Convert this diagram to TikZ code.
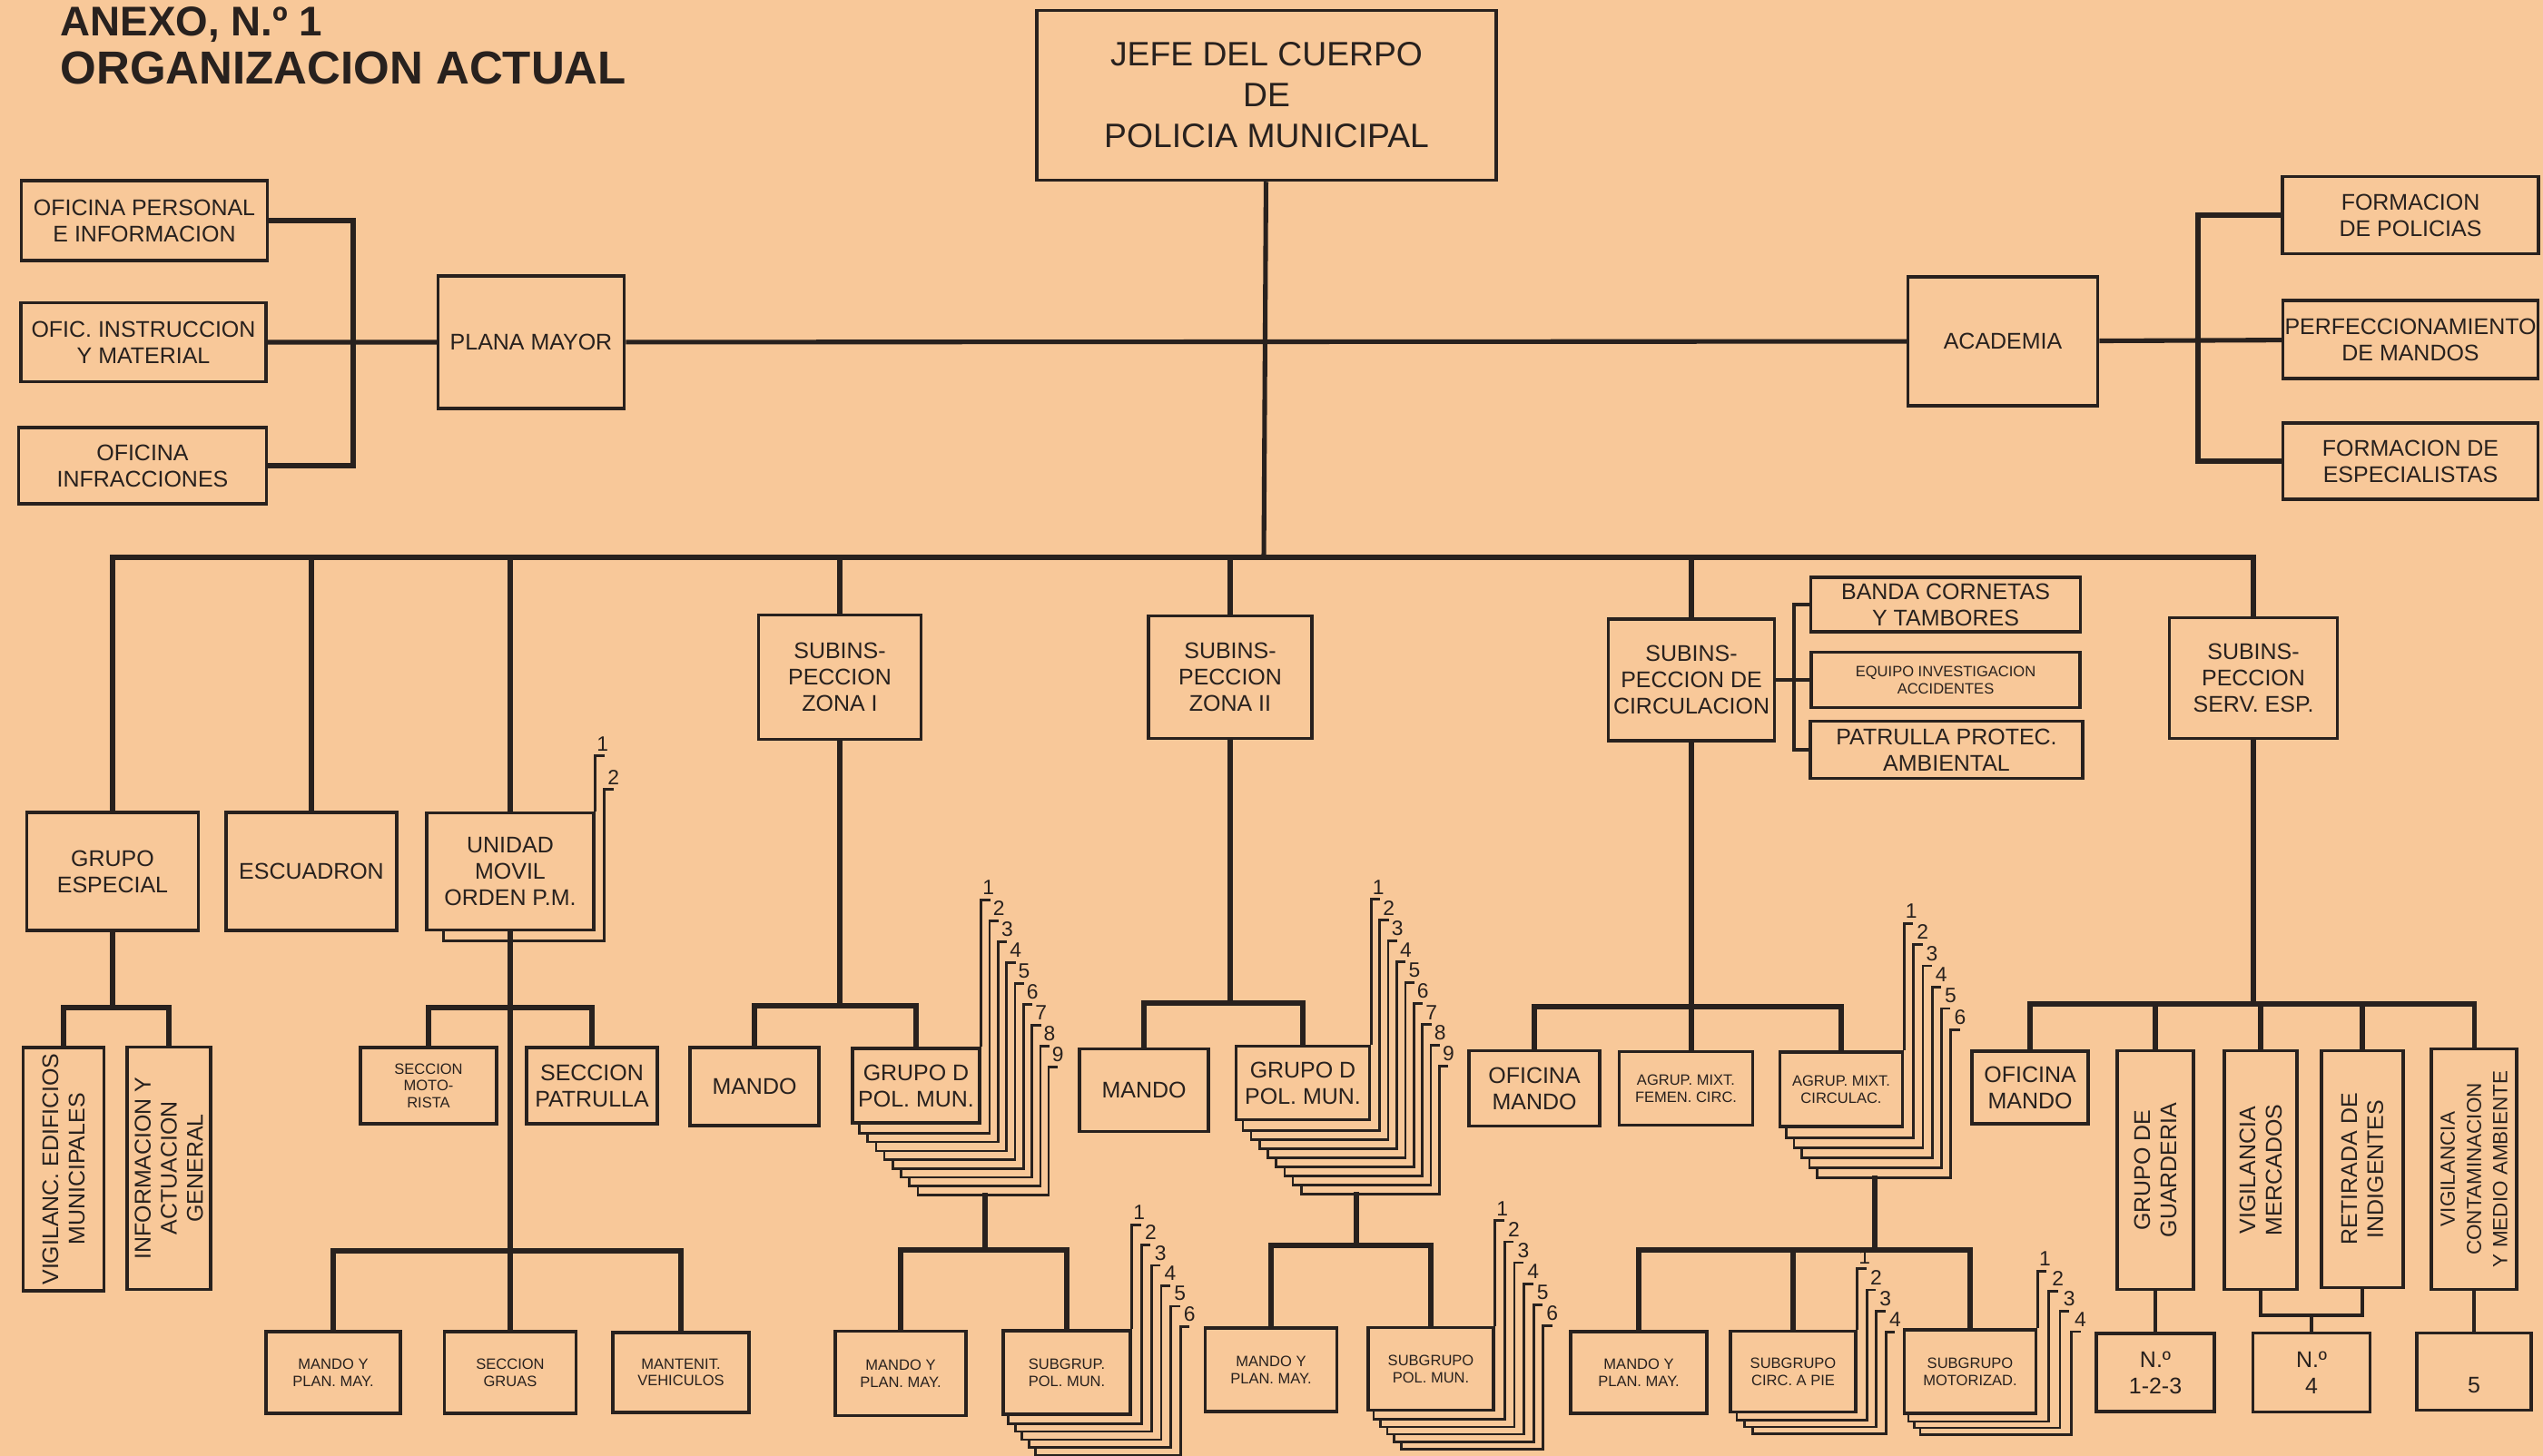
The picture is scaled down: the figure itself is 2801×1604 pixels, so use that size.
\documentclass[tikz,border=0pt]{standalone}
\usepackage{fontspec}
\setmainfont{Liberation Sans}
\usetikzlibrary{calc}
\definecolor{paper}{RGB}{248,200,153}
\definecolor{ink}{RGB}{40,33,30}
\tikzset{
    office/.style = {draw=ink, line width=1pt, text=ink, inner sep=0.5pt, align=center,
        font=\fontsize{7.1}{8.2}\selectfont},
    small office/.style = {office, font=\fontsize{4.7}{5.3}\selectfont},
    tall/.style = {office, rotate=90},
    wh/.style 2 args = {minimum width=#1*0.01cm, minimum height=#2*0.01cm},
    heading/.style = {anchor=base west, text=ink, inner sep=0pt},
}
\tikzset{
    link/.style = {draw=ink, line width=1.45pt},
    thin link/.style = {draw=ink, line width=0.9pt},
    layer/.style = {draw=ink, line width=0.75pt},
    num/.style = {text=ink, inner sep=0pt, anchor=south west, font=\fontsize{6.5}{6.5}\selectfont},
}
% stacked copies behind a box: node, copies, dx right, dx left, dy, rise, step of the tops
\newcommand\pile[7]{%
    \draw[layer] (#1.north east) -- ++(0,-#6) -- ++(10,0);
    \node[num] at ($(#1.north east)+(1,{-#6-5})$) {1};
    \foreach \k in {2,...,#2} {
        \draw[layer] ($(#1.south west)+({(\k-1)*#4},{(\k-2)*#5})$) -- ++(0,#5)
            -| ($(#1.north east)+({(\k-1)*#3},{-#6+(\k-1)*#7})$) -- ++(10,0);
        \node[num] at ($(#1.north east)+({(\k-1)*#3+3},{-#6+(\k-1)*#7-5})$) {\k};
    }
}

\begin{document}
\begin{tikzpicture}[x=0.01cm, y=-0.01cm]
    \fill[paper] (0,0) rectangle (2801,1604);
    \useasboundingbox (0,0) rectangle (2801,1604);

    \node[heading, font=\bfseries\fontsize{13}{13}\selectfont] (anexo) at (66,40) {ANEXO, N.º 1};
    \node[heading, font=\bfseries\fontsize{14.5}{14.5}\selectfont] (orga) at (66,93) {ORGANIZACION ACTUAL};

    \node[office, wh={506}{187}, font=\fontsize{10.6}{12.8}\selectfont] (jefe) at (1395,105) {JEFE DEL CUERPO\\DE\\POLICIA MUNICIPAL};

    \node[office, wh={271}{88}] (ofper) at (159,243) {OFICINA PERSONAL\\E INFORMACION};
    \node[office, wh={270}{87}] (ofins) at (158,377) {OFIC. INSTRUCCION\\Y MATERIAL};
    \node[office, wh={273}{84}] (ofinf) at (157,513) {OFICINA\\INFRACCIONES};
    \node[office, wh={205}{146}] (plana) at (585,377) {PLANA MAYOR};

    \node[office, wh={209}{142}] (acad) at (2206,376) {ACADEMIA};
    \node[office, wh={282}{85}] (fpol) at (2655,237) {FORMACION\\DE POLICIAS};
    \node[office, wh={281}{86}] (fman) at (2655,374) {PERFECCIONAMIENTO\\DE MANDOS};
    \node[office, wh={281}{84}] (fesp) at (2655,508) {FORMACION DE\\ESPECIALISTAS};

    \node[office, wh={189}{130}] (gesp) at (124,960) {GRUPO\\ESPECIAL};
    \node[office, wh={188}{130}] (escu) at (343,960) {ESCUADRON};
    \node[office, wh={184}{129}] (umov) at (562,960) {UNIDAD\\MOVIL\\ORDEN P.M.};
    \node[office, wh={179}{137}] (zon1) at (925,746) {SUBINS-\\PECCION\\ZONA I};
    \node[office, wh={180}{135}] (zon2) at (1355,746) {SUBINS-\\PECCION\\ZONA II};
    \node[office, wh={183}{134}] (circ) at (1863,749) {SUBINS-\\PECCION DE\\CIRCULACION};
    \node[office, wh={185}{133}] (serv) at (2482,747) {SUBINS-\\PECCION\\SERV. ESP.};

    \node[office, wh={297}{60}] (banda) at (2143,666) {BANDA CORNETAS\\Y TAMBORES};
    \node[small office, wh={296}{61}] (equi) at (2143,749) {EQUIPO INVESTIGACION\\ACCIDENTES};
    \node[office, wh={300}{63}] (patr) at (2144,826) {PATRULLA PROTEC.\\AMBIENTAL};

    \node[tall, wh={268}{89}] (vige) at (70,1288) {VIGILANC. EDIFICIOS\\MUNICIPALES};
    \node[tall, wh={267}{92}] (info) at (186,1287) {INFORMACION Y\\ACTUACION\\GENERAL};

    \node[small office, wh={150}{84}] (smot) at (472,1196) {SECCION\\MOTO-\\RISTA};
    \node[office, wh={144}{84}] (spat) at (652,1196) {SECCION\\PATRULLA};
    \node[small office, wh={148}{90}] (mpum) at (367,1512) {MANDO Y\\PLAN. MAY.};
    \node[small office, wh={145}{90}] (grua) at (562,1512) {SECCION\\GRUAS};
    \node[small office, wh={150}{88}] (mant) at (750,1512) {MANTENIT.\\VEHICULOS};

    \node[office, wh={142}{86}] (man1) at (831,1197) {MANDO};
    \node[office, wh={140}{82}] (gd1) at (1009,1196) {GRUPO D\\POL. MUN.};
    \node[small office, wh={144}{93}] (mpz1) at (992,1513) {MANDO Y\\PLAN. MAY.};
    \node[small office, wh={140}{92}] (sg1) at (1175,1512) {SUBGRUP.\\POL. MUN.};

    \node[office, wh={142}{91}] (man2) at (1260,1201) {MANDO};
    \node[office, wh={147}{81}] (gd2) at (1435,1193) {GRUPO D\\POL. MUN.};
    \node[small office, wh={145}{92}] (mpz2) at (1400,1509) {MANDO Y\\PLAN. MAY.};
    \node[small office, wh={138}{91}] (sg2) at (1576,1508) {SUBGRUPO\\POL. MUN.};

    \node[office, wh={144}{83}] (ofm1) at (1690,1199) {OFICINA\\MANDO};
    \node[small office, wh={147}{81}] (agfe) at (1857,1199) {AGRUP. MIXT.\\FEMEN. CIRC.};
    \node[small office, wh={135}{82}] (agci) at (2028,1200) {AGRUP. MIXT.\\CIRCULAC.};
    \node[small office, wh={150}{90}] (mpci) at (1805,1512) {MANDO Y\\PLAN. MAY.};
    \node[small office, wh={138}{89}] (sgpi) at (1975,1511) {SUBGRUPO\\CIRC. A PIE};
    \node[small office, wh={145}{92}] (sgmo) at (2170,1511) {SUBGRUPO\\MOTORIZAD.};

    \node[office, wh={128}{80}] (ofm2) at (2236,1198) {OFICINA\\MANDO};
    \node[tall, wh={263}{84}] (guar) at (2374,1289) {GRUPO DE\\GUARDERIA};
    \node[tall, wh={263}{80}] (vmer) at (2490,1289) {VIGILANCIA\\MERCADOS};
    \node[tall, wh={261}{90}] (reti) at (2602,1288) {RETIRADA DE\\INDIGENTES};
    \node[tall, wh={265}{94}, font=\fontsize{6.4}{8.2}\selectfont] (vcon) at (2725,1288) {VIGILANCIA\\CONTAMINACION\\Y MEDIO AMBIENTE};
    \node[office, wh={130}{86}] (n123) at (2374,1512) {N.º\\1-2-3};
    \node[office, wh={129}{87}] (n4) at (2546,1512) {N.º\\4};
    \node[office, wh={126}{85}] (n5) at (2725,1511) {\phantom{N.º}\\5};

    \coordinate (bus) at (1392,614);
    \coordinate (pmj) at (389,377);
    \coordinate (acj) at (2421,374);
    \coordinate (cij) at (1976,749);

    \draw[link] (jefe) -- (bus);
    \draw[link] (ofins) -- (plana) -- (acad) -- (fman);
    \draw[link] (ofper) -| (pmj) |- (ofinf);
    \draw[link] (fpol) -| (acj) |- (fesp);

    \draw[link] (gesp) |- (bus) -| (serv);
    \draw[link] (escu) -- (escu |- bus);
    \draw[link] (umov) -- (umov |- bus);
    \draw[link] (zon1) -- (zon1 |- bus);
    \draw[link] (zon2) -- (zon2 |- bus);
    \draw[link] (circ) -- (circ |- bus);

    \draw[thin link] (circ) -- (equi);
    \draw[thin link] (banda) -| (cij) |- (patr);

    % grupo especial and unidad movil
    \coordinate (gej) at (124,1110);
    \draw[link] (gesp) -- (gej);
    \draw[link] (vige) |- (gej) -| (info);
    \coordinate (umj1) at (562,1110);
    \coordinate (umj2) at (562,1378);
    \draw[link] (umov) -- (umj2) -- (grua);
    \draw[link] (smot) |- (umj1) -| (spat);
    \draw[link] (mpum) |- (umj2) -| (mant);

    % zona I
    \coordinate (z1j) at (925,1108);
    \draw[link] (zon1) -- (z1j);
    \draw[link] (man1) |- (z1j) -| (gd1);
    \coordinate (gd1b) at (1085,1314);
    \coordinate (gd1j) at (1085,1377);
    \draw[link] (gd1b) -- (gd1j);
    \draw[link] (mpz1) |- (gd1j) -| (sg1);

    % zona II
    \coordinate (z2j) at (1355,1105);
    \draw[link] (zon2) -- (z2j);
    \draw[link] (man2) |- (z2j) -| (gd2);
    \coordinate (gd2b) at (1494,1313);
    \coordinate (gd2j) at (1494,1372);
    \draw[link] (gd2b) -- (gd2j);
    \draw[link] (mpz2) |- (gd2j) -| (sg2);

    % circulacion
    \coordinate (cj) at (1863,1109);
    \draw[link] (circ) -- (cj) -- (cj |- agfe.north);
    \draw[link] (ofm1) |- (cj) -| (agci);
    \coordinate (agcb) at (2065,1295);
    \coordinate (agcj) at (2065,1377);
    \draw[link] (agcb) -- (agcj);
    \draw[link] (mpci) |- (agcj) -| (sgmo);
    \draw[link] (sgpi) -- (sgpi |- agcj);

    % servicios especiales
    \coordinate (sj) at (2482,1106);
    \draw[link] (serv) -- (sj);
    \draw[link] (ofm2) |- (sj) -| (vcon);
    \draw[link] (guar) -- (guar |- sj);
    \draw[link] (vmer) -- (vmer |- sj);
    \draw[link] (reti) -- (reti |- sj);
    \coordinate (vj) at (2546,1449);
    \draw[thin link] (guar) -- (n123);
    \draw[thin link] (vcon) -- (n5);
    \draw[thin link] (vmer) |- (vj) -| (reti);
    \draw[thin link] (vj) -- (n4);

    \pile{umov}{2}{10}{20}{10}{61}{37}
    \pile{gd1}{9}{9.3}{9.2}{9.7}{162}{23}
    \pile{gd2}{9}{9.4}{9.2}{10}{160}{23}
    \pile{sg1}{6}{10.7}{7.5}{8.7}{115}{22.4}
    \pile{sg2}{6}{10.6}{7.6}{8.3}{116}{23.2}
    \pile{agci}{6}{10.3}{8.6}{11}{140}{23.4}
    \pile{sgpi}{4}{10.5}{8.7}{7.4}{67}{23.3}
    \pile{sgmo}{4}{12.4}{6.4}{7.2}{63}{22.2}
\end{tikzpicture}
\end{document}
